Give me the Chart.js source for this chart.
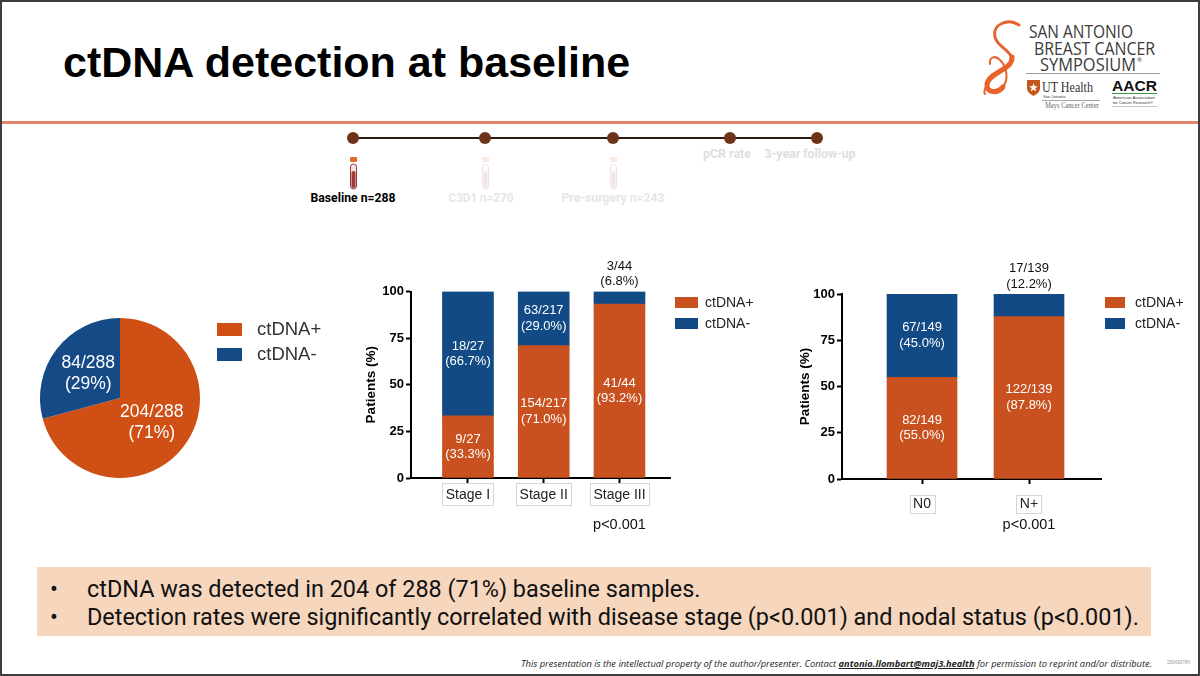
<!DOCTYPE html>
<html>
<head>
<meta charset="utf-8">
<title>ctDNA detection at baseline</title>
<script src="https://cdn.jsdelivr.net/npm/chart.js@4.4.1/dist/chart.umd.min.js"></script>
<style>
  html, body { margin: 0; padding: 0; background: #fff; }
  #slide { position: relative; width: 1200px; height: 676px; overflow: hidden; background: #fff;
           font-family: "Liberation Sans", Arial, sans-serif; }
  #frame { position: absolute; left: 0; top: 0; width: 1200px; height: 676px; box-sizing: border-box;
           border: 2px solid #3d3d3d; pointer-events: none; }
  #deco { position: absolute; left: 0; top: 0; }
  h1 { position: absolute; left: 63px; top: 38px; margin: 0; font-size: 43px; line-height: 48px;
       font-weight: bold; color: #000; white-space: nowrap; }
  .rule { position: absolute; left: 0; top: 121px; width: 1200px; height: 3px; background: #e3836a; }
  canvas { position: absolute; }
  #pie { left: 30px; top: 300px; }
  #stage { left: 340px; top: 250px; }
  #nodal { left: 770px; top: 250px; }
  .summary { position: absolute; left: 37px; top: 567px; width: 1114px; height: 69px; background: #f6d6bd;
             font-family: Roboto, "Noto Sans", sans-serif; font-size: 23.4px; color: #111; }
  .summary div { position: absolute; left: 0; height: 28px; line-height: 28px; white-space: nowrap; }
  .summary .b { position: absolute; left: 13px; }
  .summary .t { position: absolute; left: 50px; }
  .footer { position: absolute; right: 48px; top: 657px; font-family: "Open Sans", sans-serif; font-style: italic;
            font-size: 9.3px; line-height: 14px; color: #222; white-space: nowrap; }
  .footer b { text-decoration: underline; }
  .code { position: absolute; left: 1167px; top: 660px; font-size: 4.5px; color: #999; }
</style>
</head>
<body>
<div id="slide">
  <svg id="deco" width="1200" height="676" xmlns="http://www.w3.org/2000/svg">
    <!-- study timeline -->
    <line x1="353" y1="138" x2="817" y2="138" stroke="#2a1a12" stroke-width="2"/>
    <circle cx="353" cy="138" r="6" fill="#6f3318"/>
    <circle cx="485" cy="138" r="6" fill="#6f3318"/>
    <circle cx="613" cy="138" r="6" fill="#6f3318"/>
    <circle cx="730" cy="138" r="6" fill="#6f3318"/>
    <circle cx="817" cy="138" r="6" fill="#6f3318"/>
    <g>
      <rect x="350" y="157" width="7" height="5" rx="1" fill="#e4672c"/>
      <rect x="350.5" y="164" width="6" height="25" rx="3" fill="#f4e4e4" stroke="#9a3b3b" stroke-width="1"/>
      <rect x="351.5" y="171" width="4" height="17" rx="2" fill="#a23a3a"/>
    </g>
    <g opacity="0.13">
      <rect x="482" y="157" width="7" height="5" rx="1" fill="#e4672c"/>
      <rect x="482.5" y="164" width="6" height="25" rx="3" fill="#f4e4e4" stroke="#9a3b3b" stroke-width="1"/>
      <rect x="483.5" y="171" width="4" height="17" rx="2" fill="#a23a3a"/>
      <rect x="610" y="157" width="7" height="5" rx="1" fill="#e4672c"/>
      <rect x="610.5" y="164" width="6" height="25" rx="3" fill="#f4e4e4" stroke="#9a3b3b" stroke-width="1"/>
      <rect x="611.5" y="171" width="4" height="17" rx="2" fill="#a23a3a"/>
    </g>
    <g font-family="Roboto, sans-serif" font-weight="bold" font-size="12.5" text-anchor="middle">
      <text x="353" y="201.5" fill="#000" textLength="85" lengthAdjust="spacingAndGlyphs">Baseline n=288</text>
      <text x="481" y="201.5" fill="#e6e6e6" textLength="65" lengthAdjust="spacingAndGlyphs">C3D1 n=270</text>
      <text x="613" y="201.5" fill="#e6e6e6" textLength="103" lengthAdjust="spacingAndGlyphs">Pre-surgery n=243</text>
      <text x="727" y="157.5" fill="#dedede" textLength="48" lengthAdjust="spacingAndGlyphs">pCR rate</text>
      <text x="810" y="157.5" fill="#dedede" textLength="91" lengthAdjust="spacingAndGlyphs">3-year follow-up</text>
    </g>

    <!-- symposium logo -->
    <g fill="none" stroke="#e8622c" stroke-linecap="round">
      <path d="M1019,25 C1008,18 992,24 995,37 C997,47 1011,50 1012,59" stroke-width="3"/>
      <path d="M1012,57 C1013,70 989,72 987,84 C986,93 997,94 1003,87" stroke-width="5"/>
      <path d="M1003,87 C1009,79 1007,66 999,59 C994,55 989,58 990,64" stroke-width="2"/>
      <path d="M987,84 C985,89 983,92 985,94" stroke-width="2"/>
    </g>
    <g font-family="'Open Sans', sans-serif" fill="#3b3b3b">
      <text x="1029" y="38" font-size="19" textLength="104" lengthAdjust="spacingAndGlyphs">SAN ANTONIO</text>
      <text x="1034" y="55" font-size="19" textLength="121" lengthAdjust="spacingAndGlyphs">BREAST CANCER</text>
      <text x="1040" y="71" font-size="19" textLength="96" lengthAdjust="spacingAndGlyphs">SYMPOSIUM</text>
      <text x="1137" y="62" font-size="6">®</text>
    </g>
    <line x1="1026" y1="73.5" x2="1160" y2="73.5" stroke="#a0a0a0" stroke-width="1"/>
    <path d="M1027,80 L1040,80 L1040,88 C1040,93 1035,95 1033.5,96 C1032,95 1027,93 1027,88 Z" fill="#c4581f"/>
    <polygon points="1033.5,83 1034.6,86.3 1038,86.3 1035.3,88.3 1036.3,91.5 1033.5,89.6 1030.7,91.5 1031.7,88.3 1029,86.3 1032.4,86.3" fill="#fff"/>
    <g font-family="'Liberation Serif', serif" fill="#333">
      <text x="1042" y="92" font-size="15" textLength="51" lengthAdjust="spacingAndGlyphs">UT Health</text>
      <text x="1043" y="98" font-size="4.5">San Antonio</text>
      <text x="1045" y="108" font-size="7.5" fill="#666" textLength="54" lengthAdjust="spacingAndGlyphs">Mays Cancer Center</text>
    </g>
    <line x1="1042" y1="100.5" x2="1100" y2="100.5" stroke="#666" stroke-width="0.6"/>
    <text x="1112" y="91" font-family="'Liberation Sans', sans-serif" font-weight="bold" font-size="14" fill="#111" textLength="45" lengthAdjust="spacingAndGlyphs">AACR</text>
    <line x1="1112" y1="93.5" x2="1157" y2="93.5" stroke="#3a9a46" stroke-width="1"/>
    <g font-family="'Liberation Sans', sans-serif" font-size="4.3" fill="#333">
      <text x="1113" y="99" textLength="42" lengthAdjust="spacingAndGlyphs">American Association</text>
      <text x="1113" y="104" textLength="40" lengthAdjust="spacingAndGlyphs">for Cancer Research®</text>
    </g>
    <line x1="1112" y1="106.5" x2="1157" y2="106.5" stroke="#999" stroke-width="0.6"/>
  </svg>

  <h1>ctDNA detection at baseline</h1>
  <div class="rule"></div>

  <canvas id="pie" width="330" height="190"></canvas>
  <canvas id="stage" width="440" height="300"></canvas>
  <canvas id="nodal" width="430" height="300"></canvas>

  <div class="summary">
    <div style="top:8px"><span class="b">•</span><span class="t">ctDNA was detected in 204 of 288 (71%) baseline samples.</span></div>
    <div style="top:36px"><span class="b">•</span><span class="t">Detection rates were significantly correlated with disease stage (p&lt;0.001) and nodal status (p&lt;0.001).</span></div>
  </div>
  <div class="footer">This presentation is the intellectual property of the author/presenter. Contact <b>antonio.llombart@maj3.health</b> for permission to reprint and/or distribute.</div>
  <div class="code">2504307Rh</div>
  <div id="frame"></div>
</div>

<script>
const FONT = '"Liberation Sans", Arial, Helvetica, sans-serif';

// all baseline samples
const pieLabels = ['ctDNA+', 'ctDNA-'];
const pieCounts = [204, 84];
const pieTotal = 288;
const piePercents = [71, 29];

// by disease stage
const stageCategories = ['Stage I', 'Stage II', 'Stage III'];
const stageTotals = [27, 217, 44];
const stagePosCounts = [9, 154, 41];
const stageNegCounts = [18, 63, 3];
const stagePosPct = [33.3, 71.0, 93.2];
const stageNegPct = [66.7, 29.0, 6.8];

// by nodal status
const nodalCategories = ['N0', 'N+'];
const nodalTotals = [149, 139];
const nodalPosCounts = [82, 122];
const nodalNegCounts = [67, 17];
const nodalPosPct = [55.0, 87.8];
const nodalNegPct = [45.0, 12.2];

const yTicks = [0, 25, 50, 75, 100];
const pValueText = 'p<0.001';

const ORANGE = '#c8511f';
const BLUE = '#124a85';

Chart.defaults.font.family = FONT;

// Legend drawn beside the plot area
const sideLegend = {
  id: 'sideLegend',
  afterDraw(chart, args, o) {
    const { ctx, chartArea } = chart;
    const items = chart.config.type === 'pie'
      ? chart.data.labels.map((l, i) => ({ text: l, color: chart.data.datasets[0].backgroundColor[i] }))
      : chart.data.datasets.map(d => ({ text: d.label, color: d.backgroundColor }));
    ctx.save();
    ctx.font = o.size + 'px ' + FONT;
    ctx.textBaseline = 'middle';
    items.forEach((it, i) => {
      const x = chartArea.right + o.dx;
      const y = chartArea.top + o.dy + i * o.gap;
      ctx.fillStyle = it.color;
      ctx.fillRect(x, y, o.boxW, o.boxH);
      ctx.fillStyle = o.color;
      ctx.fillText(it.text, x + o.textDx, y + o.boxH / 2 + 0.5);
    });
    ctx.restore();
  }
};

// n/N and (%) labels on each bar segment
const barLabels = {
  id: 'barLabels',
  afterDatasetsDraw(chart, args, o) {
    const { ctx } = chart;
    ctx.save();
    ctx.font = o.size + 'px ' + FONT;
    ctx.textAlign = 'center';
    ctx.textBaseline = 'middle';
    chart.data.datasets.forEach((ds, di) => {
      chart.getDatasetMeta(di).data.forEach((bar, i) => {
        const lines = [ds.counts[i] + '/' + o.totals[i], '(' + ds.data[i].y.toFixed(1) + '%)'];
        let cy;
        if (bar.base - bar.y > 30) {
          ctx.fillStyle = '#fff';
          cy = (bar.y + bar.base) / 2;
        } else {
          ctx.fillStyle = '#111';
          cy = bar.y - 10 - o.lh / 2;
        }
        ctx.fillText(lines[0], bar.x, cy - o.lh / 2);
        ctx.fillText(lines[1], bar.x, cy + o.lh / 2);
      });
    });
    ctx.restore();
  }
};

// thin frames round the category names + p value
const catBoxes = {
  id: 'catBoxes',
  afterDraw(chart, args, o) {
    const { ctx, chartArea } = chart;
    const xs = chart.scales.x;
    ctx.save();
    ctx.font = '14px ' + FONT;
    ctx.strokeStyle = '#d6d6d6';
    ctx.lineWidth = 1;
    const cy = chartArea.bottom + o.boxDy;
    xs.ticks.forEach((t, i) => {
      const x = xs.getPixelForValue(t.value);
      const w = ctx.measureText(o.labels[i]).width + 2 * o.padX;
      ctx.strokeRect(Math.round(x - w / 2) + 0.5, Math.round(cy - o.halfH) + 0.5, Math.round(w), Math.round(2 * o.halfH));
    });
    const last = xs.ticks[xs.ticks.length - 1];
    ctx.fillStyle = '#111';
    ctx.textAlign = 'center';
    ctx.textBaseline = 'middle';
    ctx.font = '14.5px ' + FONT;
    ctx.fillText(o.pText, xs.getPixelForValue(last.value), chartArea.bottom + o.pDy);
    ctx.restore();
  }
};

// slice labels in the pie
const pieText = {
  id: 'pieText',
  afterDatasetsDraw(chart, args, o) {
    const { ctx } = chart;
    const ds = chart.data.datasets[0];
    ctx.save();
    ctx.font = o.size + 'px ' + FONT;
    ctx.fillStyle = '#fff';
    ctx.textAlign = 'center';
    ctx.textBaseline = 'middle';
    chart.getDatasetMeta(0).data.forEach((arc, i) => {
      const p = arc.tooltipPosition();
      ctx.fillText(ds.data[i] + '/' + o.total, p.x, p.y - o.lh / 2);
      ctx.fillText('(' + o.percents[i] + '%)', p.x, p.y + o.lh / 2);
    });
    ctx.restore();
  }
};

new Chart(document.getElementById('pie'), {
  type: 'pie',
  data: {
    labels: pieLabels,
    datasets: [{ data: pieCounts, backgroundColor: ['#cf4f15', '#164a86'], borderWidth: 0 }]
  },
  options: {
    responsive: false,
    animation: false,
    events: [],
    layout: { padding: { left: 10, right: 160, top: 18, bottom: 12 } },
    plugins: {
      legend: { display: false },
      tooltip: { enabled: false },
      sideLegend: { dx: 17, dy: 5, gap: 25, boxW: 25, boxH: 13, textDx: 40, size: 18.5, color: '#333' },
      pieText: { total: pieTotal, percents: piePercents, size: 17.5, lh: 21 }
    }
  },
  plugins: [sideLegend, pieText]
});

function stackedBars(id, cats, totals, posCounts, negCounts, posPct, negPct, opt) {
  return new Chart(document.getElementById(id), {
    type: 'bar',
    data: {
      datasets: [
        { label: 'ctDNA+', data: posPct.map((v, i) => ({ x: i, y: v })), counts: posCounts,
          backgroundColor: ORANGE, borderWidth: 0, barThickness: opt.barW },
        { label: 'ctDNA-', data: negPct.map((v, i) => ({ x: i, y: v })), counts: negCounts,
          backgroundColor: BLUE, borderWidth: 0, barThickness: opt.barW }
      ]
    },
    options: {
      responsive: false,
      animation: false,
      events: [],
      layout: { padding: opt.padding },
      plugins: {
        legend: { display: false },
        tooltip: { enabled: false },
        sideLegend: Object.assign({ gap: 21, textDx: 30, size: 14, color: '#222' }, opt.legend),
        barLabels: { totals: totals, size: 13, lh: 15.5 },
        catBoxes: Object.assign({ labels: cats, pText: pValueText, padX: 3.5 }, opt.boxes)
      },
      scales: {
        x: {
          type: 'linear',
          stacked: true,
          offset: false,
          min: opt.xMin,
          max: opt.xMax,
          afterBuildTicks: s => { s.ticks = cats.map((c, i) => ({ value: i })); },
          afterFit: s => { s.height = opt.xH; },
          ticks: { callback: v => cats[v], font: { size: 14 }, color: '#222', padding: opt.tickPad,
                   maxRotation: 0, autoSkip: false },
          grid: { drawOnChartArea: false, offset: false, tickLength: 5, tickWidth: 2, tickColor: '#000' },
          border: { display: true, color: '#000', width: 2 }
        },
        y: {
          stacked: true,
          min: 0,
          max: 100,
          afterBuildTicks: s => { s.ticks = yTicks.map(v => ({ value: v })); },
          afterFit: s => { s.width = opt.yW; },
          ticks: { font: { size: 13, weight: 'bold' }, color: '#000', padding: 2 },
          grid: { drawOnChartArea: false, tickLength: 5, tickWidth: 2, tickColor: '#000' },
          border: { display: true, color: '#000', width: 2 },
          title: { display: true, text: 'Patients (%)', color: '#000', font: { size: 13.5, weight: 'bold' },
                   padding: { top: opt.titlePad, bottom: 0 } }
        }
      }
    },
    plugins: [sideLegend, barLabels, catBoxes]
  });
}

stackedBars('stage', stageCategories, stageTotals, stagePosCounts, stageNegCounts, stagePosPct, stageNegPct, {
  barW: 51, xMin: -0.752, xMax: 2.667, xH: 72, yW: 71, tickPad: 4, titlePad: 23.5,
  padding: { left: 0, right: 110, top: 41.5, bottom: 0 },
  legend: { dx: 5, dy: 5.5, boxW: 23, boxH: 11 },
  boxes: { boxDy: 16, halfH: 11, pDy: 47 }
});

stackedBars('nodal', nodalCategories, nodalTotals, nodalPosCounts, nodalNegCounts, nodalPosPct, nodalNegPct, {
  barW: 70, xMin: -0.748, xMax: 1.673, xH: 71, yW: 72, tickPad: 12, titlePad: 27.5,
  padding: { left: 0, right: 99, top: 44, bottom: 0 },
  legend: { dx: 4, dy: 3, boxW: 20, boxH: 11 },
  boxes: { boxDy: 25, halfH: 9, pDy: 46 }
});
</script>
</body>
</html>
